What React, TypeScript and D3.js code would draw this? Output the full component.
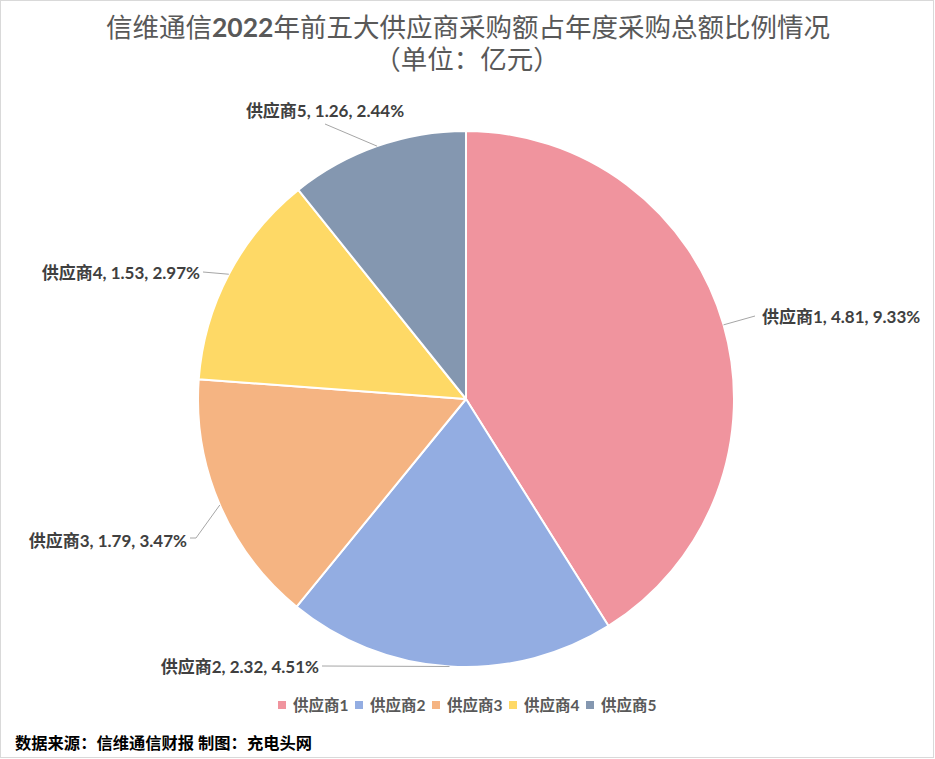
import React from "react";
import * as d3 from "d3";

const categories = ["供应商1", "供应商2", "供应商3", "供应商4", "供应商5"];
const values = [4.81, 2.32, 1.79, 1.53, 1.26];
const percents = ["9.33%", "4.51%", "3.47%", "2.97%", "2.44%"];
const colors = ["#F0949E", "#93ADE2", "#F5B482", "#FED966", "#8497B0"];

// label layout (text anchor point, elbow of leader line)
const labelLayout = [
  { x: 762, y: 316, anchor: "start", elbow: [755, 316] },
  { x: 319, y: 666, anchor: "end", elbow: [322, 666] },
  { x: 187, y: 540, anchor: "end", elbow: [196, 538], end: [190, 538] },
  { x: 200, y: 272, anchor: "end", elbow: [203, 272] },
  { x: 325, y: 110, anchor: "middle", elbow: [325, 124] },
];

const W = 935;
const H = 759;
const cx = 466;
const cy = 399;
const R = 268;
const FONT = "Lato, 'Noto Sans CJK SC', sans-serif";

export default function App() {
  const pie = d3.pie<number>().sort(null).value((d) => d).startAngle(0).endAngle(2 * Math.PI);
  const arcs = pie(values);
  const arc = d3.arc<d3.PieArcDatum<number>>().innerRadius(0).outerRadius(R);

  return (
    <svg
      width={W}
      height={H}
      style={{ position: "absolute", left: 0, top: 0, display: "block", background: "#fff" }}
      fontFamily={FONT}
    >
      <rect x={0.5} y={0.5} width={933} height={757} fill="#fff" stroke="#D9D9D9" />
      <text x={468} y={27} textAnchor="middle" dominantBaseline="central" fontSize={26.5} fill="#595959">
        信维通信<tspan fontWeight="bold">2022</tspan>年前五大供应商采购额占年度采购总额比例情况
      </text>
      <text x={467} y={59} textAnchor="middle" dominantBaseline="central" fontSize={26.5} fill="#595959">
        （单位：亿元）
      </text>
      <g transform={`translate(${cx},${cy})`}>
        {arcs.map((a, i) => (
          <path key={i} d={arc(a) || ""} fill={colors[i]} stroke="#fff" strokeWidth={2} strokeLinejoin="round" />
        ))}
      </g>
      {arcs.map((a, i) => {
        const mid = (a.startAngle + a.endAngle) / 2;
        const ex = cx + R * Math.sin(mid);
        const ey = cy - R * Math.cos(mid);
        const L = labelLayout[i];
        const pts: number[][] = [[ex, ey], L.elbow];
        if (L.end) pts.push(L.end);
        return (
          <g key={i}>
            <polyline
              points={pts.map((p) => p.join(",")).join(" ")}
              fill="none"
              stroke="#A6A6A6"
              strokeWidth={1}
            />
            <text
              x={L.x}
              y={L.y}
              textAnchor={L.anchor}
              dominantBaseline="central"
              fontSize={17}
              fontWeight="bold"
              fill="#404040"
            >
              {`${categories[i]}, ${values[i].toFixed(2)}, ${percents[i]}`}
            </text>
          </g>
        );
      })}
      <g>
        {categories.map((c, i) => {
          const x0 = 278 + i * 77;
          return (
            <g key={c}>
              <rect x={x0} y={701} width={8} height={8} fill={colors[i]} />
              <text x={x0 + 15} y={705} dominantBaseline="central" fontSize={15.5} fontWeight="bold" fill="#595959">
                {c}
              </text>
            </g>
          );
        })}
      </g>
      <text x={15} y={742} dominantBaseline="central" fontSize={16.3} fontWeight="bold" fill="#000">
        数据来源：信维通信财报 制图：充电头网
      </text>
    </svg>
  );
}
